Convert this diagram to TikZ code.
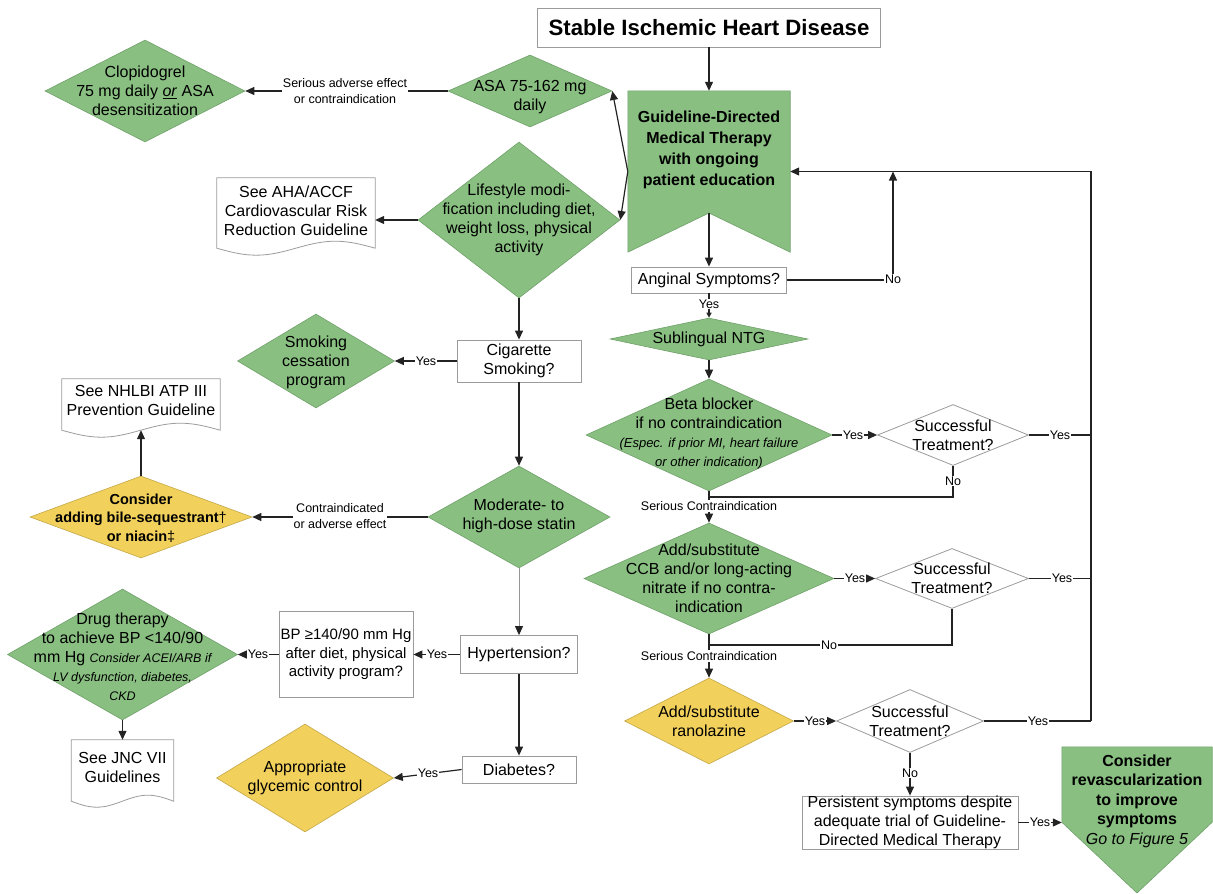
\documentclass[tikz,border=0pt]{standalone}
\usepackage{fontspec}
\setmainfont{Liberation Sans}
\usetikzlibrary{shapes.geometric,arrows.meta,calc}
\definecolor{gfill}{RGB}{137,192,129}
\definecolor{gdraw}{RGB}{112,160,106}
\definecolor{yfill}{RGB}{242,208,92}
\definecolor{ydraw}{RGB}{196,168,72}
\definecolor{bdraw}{RGB}{155,155,155}
\definecolor{lcol}{RGB}{35,35,35}
\definecolor{gline}{RGB}{150,150,150}
\newcommand{\mainfs}{\fontsize{16pt}{19pt}\selectfont}
\newcommand{\labfs}{\fontsize{12.5pt}{15.5pt}\selectfont}
\newcommand{\drawdoc}[3]{%
  \draw[docline] (#1.south east) -- (#1.north east) -- (#1.north west) -- (#1.south west)
    sin ($(#1.south west)+(#2,#3)$) cos ($(#1.south west)+(2*#2,0)$)
    sin ($(#1.south west)+(3*#2,-#3)$) cos (#1.south east) -- cycle;}
\begin{document}
\begin{tikzpicture}[x=1pt,y=-1pt,
  gdia/.style={diamond, draw=gdraw, fill=gfill, line width=0.6pt, inner sep=0pt},
  ydia/.style={diamond, draw=ydraw, fill=yfill, line width=0.6pt, inner sep=0pt},
  wdia/.style={diamond, draw=bdraw, fill=white, line width=0.8pt, inner sep=0pt},
  box/.style={rectangle, draw=bdraw, fill=white, line width=0.8pt, align=center, inner sep=0pt, font=\mainfs},
  txt/.style={align=center, inner sep=0pt, font=\mainfs},
  anchorbox/.style={rectangle, inner sep=0pt},
  docline/.style={draw=bdraw, line width=0.8pt},
  elab/.style={fill=white, inner sep=1pt, align=center, font=\labfs},
  conn/.style={draw=lcol, line width=1.2pt},
  arr/.style={conn, -{Triangle[length=9pt,width=8pt]}},
  sarr/.style={conn, -{Triangle[length=5pt,width=5pt]}},
  garr/.style={draw=gline, line width=1pt, -{Triangle[length=9pt,width=8pt,color=lcol]}},
]
\useasboundingbox (0,0) rectangle (1213,894);

% ---------- title and GDMT ----------
\node[box, font=\bfseries\fontsize{22.2pt}{26pt}\selectfont, minimum width=343pt, minimum height=39pt] (title) at (709,27.5) {Stable Ischemic Heart Disease};

\node[anchorbox, minimum width=162pt, minimum height=161pt] (gdmt) at (709,171.5) {};
\coordinate (gdmtn) at (709,213);
\filldraw[fill=gfill, draw=gdraw, line width=0.6pt] (gdmt.north west) -- (gdmt.north east) -- (gdmt.south east) -- (gdmtn) -- (gdmt.south west) -- cycle;
\node[txt, font=\bfseries\fontsize{16pt}{21pt}\selectfont] (gdmt-t) at (709,150) {Guideline-Directed\\Medical Therapy\\with ongoing\\patient education};

% ---------- left column ----------
\node[gdia, minimum width=164pt, minimum height=72pt] (asa) at (530,91) {};
\node[txt] (asa-t) at (530,97) {ASA 75-162 mg\\daily};

\node[gdia, minimum width=200pt, minimum height=102pt] (clop) at (145,91) {};
\node[txt] (clop-t) at (145,91) {Clopidogrel\\75 mg daily \underline{\textit{or}} ASA\\desensitization};

\node[gdia, minimum width=202pt, minimum height=156pt] (life) at (519,220) {};
\node[txt] (life-t) at (519,220) {Lifestyle modi-\\fication including diet,\\weight loss, physical\\activity};

\node[anchorbox, minimum width=158pt, minimum height=70pt] (aha) at (296,213) {};
\drawdoc{aha}{39.5}{7}
\node[txt] (aha-t) at (296,211) {See AHA/ACCF\\Cardiovascular Risk\\Reduction Guideline};

\node[box, minimum width=124pt, minimum height=42pt] (cig) at (519,361) {Cigarette\\Smoking?};

\node[gdia, minimum width=157pt, minimum height=94pt] (smoke) at (316,361) {};
\node[txt] (smoke-t) at (316,362) {Smoking\\cessation\\program};

\node[anchorbox, minimum width=158pt, minimum height=51pt] (nhlbi) at (141,404.5) {};
\drawdoc{nhlbi}{39.5}{7}
\node[txt] (nhlbi-t) at (141,400) {See NHLBI ATP III\\Prevention Guideline};

\node[ydia, minimum width=222pt, minimum height=82pt] (bile) at (141,517) {};
\node[txt, font=\bfseries\fontsize{14.5pt}{18.5pt}\selectfont] (bile-t) at (141,518) {Consider\\adding bile-sequestrant{\mdseries †}\\or niacin{\mdseries ‡}};

\node[gdia, minimum width=182pt, minimum height=102pt] (statin) at (519,517) {};
\node[txt] (statin-t) at (519,516) {Moderate- to\\high-dose statin};

\node[box, minimum width=117pt, minimum height=38pt] (hyp) at (519,654.5) {Hypertension?};

\node[box, font=\fontsize{15pt}{18.5pt}\selectfont, minimum width=134pt, minimum height=86pt] (bp) at (346,654.5) {BP ≥140/90 mm Hg\\after diet, physical\\activity program?};

\node[gdia, minimum width=230pt, minimum height=131pt] (drug) at (122.5,654.5) {};
\node[txt] (drug-t) at (122.5,657) {Drug therapy\\to achieve BP <140/90\\mm Hg {\itshape\labfs Consider ACEI/ARB if}\\{\itshape\labfs LV dysfunction, diabetes,}\\{\itshape\labfs CKD}};

\node[anchorbox, minimum width=102pt, minimum height=61pt] (jnc) at (122.5,770.5) {};
\drawdoc{jnc}{25.5}{6}
\node[txt] (jnc-t) at (122.5,767) {See JNC VII\\Guidelines};

\node[box, minimum width=114pt, minimum height=27pt] (diab) at (519,769.5) {Diabetes?};

\node[ydia, minimum width=177pt, minimum height=108pt] (gly) at (305,778) {};
\node[txt] (gly-t) at (305,778) {Appropriate\\glycemic control};

% ---------- right column ----------
\node[box, minimum width=155pt, minimum height=26pt] (ang) at (709,280) {Anginal Symptoms?};

\node[gdia, minimum width=198pt, minimum height=42pt] (ntg) at (709,339) {};
\node[txt] (ntg-t) at (709,339) {Sublingual NTG};

\node[gdia, minimum width=246pt, minimum height=112pt] (beta) at (709,435) {};
\node[txt] (beta-t) at (709,434) {Beta blocker\\if no contraindication\\{\itshape\fontsize{13pt}{15.5pt}\selectfont (Espec. if prior MI, heart failure}\\{\itshape\fontsize{13pt}{15.5pt}\selectfont or other indication)}};

\node[wdia, minimum width=151pt, minimum height=61pt] (s1) at (953,435) {};
\node[txt] (s1-t) at (953,435) {Successful\\Treatment?};

\node[gdia, minimum width=250pt, minimum height=111pt] (ccb) at (709,578.5) {};
\node[txt] (ccb-t) at (709,578) {Add/substitute\\CCB and/or long-acting\\nitrate if no contra-\\indication};

\node[wdia, minimum width=153pt, minimum height=60pt] (s2) at (952,578.5) {};
\node[txt] (s2-t) at (952,578.5) {Successful\\Treatment?};

\node[ydia, minimum width=169pt, minimum height=86pt] (rano) at (709,721) {};
\node[txt] (rano-t) at (709,721) {Add/substitute\\ranolazine};

\node[wdia, minimum width=147pt, minimum height=63pt] (s3) at (910,721) {};
\node[txt] (s3-t) at (910,721) {Successful\\Treatment?};

\node[box, minimum width=216pt, minimum height=53pt] (pers) at (910,822.5) {Persistent symptoms despite\\adequate trial of Guideline-\\Directed Medical Therapy};

\node[anchorbox, minimum width=150pt, minimum height=75pt] (rev) at (1137,784.5) {};
\coordinate (revtip) at (1137,893);
\filldraw[fill=gfill, draw=gdraw, line width=0.6pt] (rev.north west) -- (rev.north east) -- (rev.south east) -- (revtip) -- (rev.south west) -- cycle;
\node[txt, font=\bfseries\fontsize{16pt}{19.5pt}\selectfont] (rev-t) at (1137,801) {Consider\\revascularization\\to improve\\symptoms\\{\mdseries\itshape Go to Figure 5}};

% ---------- connectors: left ----------
\draw[arr] (title.south) -- (gdmt.north);
\draw[arr] (gdmt.west) -- (asa.east);
\draw[arr] (gdmt.west) -- (life.east);
\draw[arr] (asa.west) -- (clop.east);
\node[elab] (l-asa) at (345,91) {Serious adverse effect\\or contraindication};
\draw[arr] (life.west) -- (life.west -| aha.east);
\draw[arr] (life.south) -- (cig.north);
\draw[arr] (cig.west) -- (smoke.east);
\node[elab] (l-smk) at (426,361) {Yes};
\draw[arr] (cig.south) -- (statin.north);
\draw[arr] (statin.west) -- (bile.east);
\node[elab] (l-stat) at (340,516) {Contraindicated\\or adverse effect};
\draw[arr] (bile.north) -- (nhlbi.south);
\draw[garr] (statin.south) -- (hyp.north);
\draw[arr] (hyp.west) -- (bp.east);
\node[elab] (l-hyp) at (437,654.5) {Yes};
\draw[arr] (bp.west) -- (drug.east);
\node[elab] (l-bp) at (258,654.5) {Yes};
\draw[arr] (drug.south) -- (jnc.north);
\draw[arr] (hyp.south) -- (diab.north);
\draw[arr] (diab.west) -- (gly.east);
\node[elab] (l-diab) at (428,773) {Yes};

% ---------- connectors: right ----------
\draw[arr] (gdmtn) -- (ang.north);
\coordinate (nojn) at (893,280);
\coordinate (jtop) at (893,171.5);
\draw[conn] (ang.east) -- (nojn);
\draw[arr] (nojn) -- (jtop);
\node[elab] (l-ang) at (893,279) {No};
\coordinate (rtop) at (1091,171.5);
\coordinate (rbot) at (1091,721);
\draw[arr] (rbot) -- (rtop) -- (gdmt.east);
\draw[sarr] (ang.south) -- (ntg.north);
\node[elab] (l-ang2) at (709,304) {Yes};
\draw[arr] (ntg.south) -- (beta.north);
\draw[arr] (beta.east) -- (s1.west);
\node[elab] (l-b1) at (853,435) {Yes};
\draw[conn] (s1.east) -- (s1.east -| rtop);
\node[elab] (l-s1) at (1060,435) {Yes};
\coordinate (j1) at (953,497);
\draw[conn] (s1.south) -- (j1) -- (j1 -| beta.south);
\node[elab] (l-s1n) at (953,481) {No};
\draw[arr] (beta.south) -- (ccb.north);
\node[elab] (l-sc1) at (709,506) {Serious Contraindication};
\draw[arr] (ccb.east) -- (s2.west);
\node[elab] (l-c1) at (855,578.5) {Yes};
\draw[conn] (s2.east) -- (s2.east -| rtop);
\node[elab] (l-s2) at (1062,578.5) {Yes};
\coordinate (j2) at (952,645);
\draw[conn] (s2.south) -- (j2) -- (j2 -| ccb.south);
\node[elab] (l-s2n) at (829,645) {No};
\draw[arr] (ccb.south) -- (rano.north);
\node[elab] (l-sc2) at (709,656) {Serious Contraindication};
\draw[arr] (rano.east) -- (s3.west);
\node[elab] (l-r1) at (815,721) {Yes};
\draw[conn] (s3.east) -- (rbot);
\node[elab] (l-s3) at (1038,721) {Yes};
\draw[arr] (s3.south) -- (pers.north);
\node[elab] (l-s3n) at (910,773) {No};
\draw[arr] (pers.east) -- (pers.east -| rev.west);
\node[elab] (l-p) at (1040,822.5) {Yes};
\end{tikzpicture}
\end{document}
